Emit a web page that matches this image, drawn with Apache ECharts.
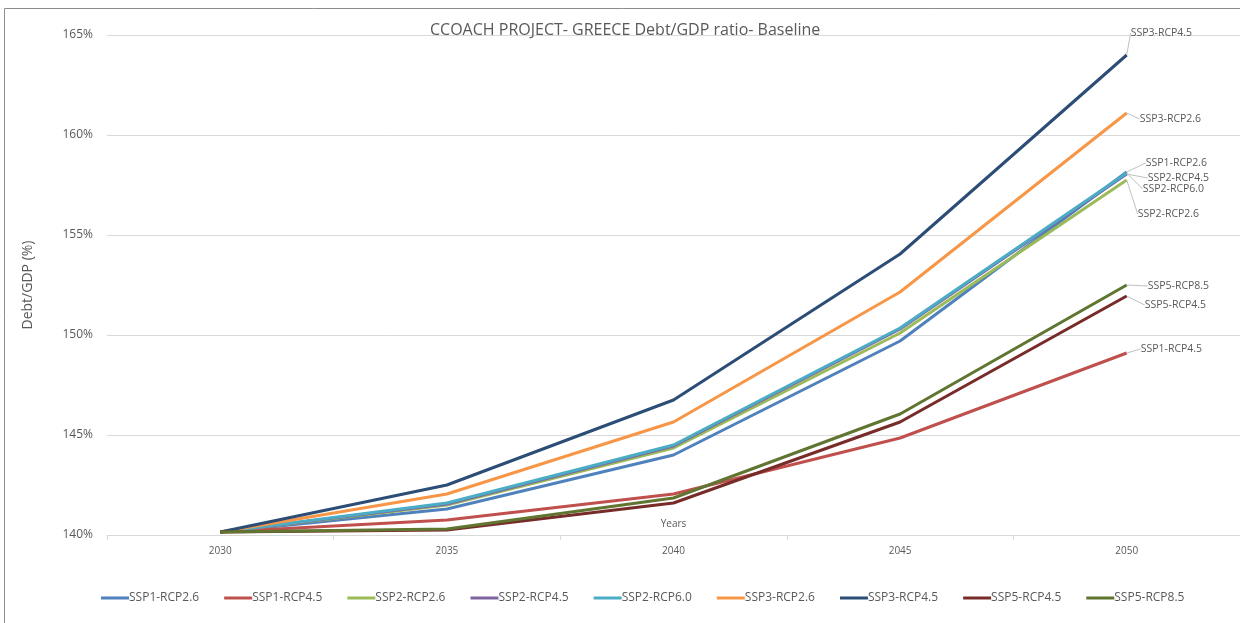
<!DOCTYPE html>
<html lang="en">
<head>
    <meta charset="utf-8"/>
    <title>CCOACH PROJECT- GREECE Debt/GDP ratio- Baseline</title>
    <script src="https://cdn.jsdelivr.net/npm/echarts@6/dist/echarts.min.js"></script>
    <style>
        html, body { margin: 0; padding: 0; background: #fff; }
        #main { width: 1240px; height: 623px; }
    </style>
</head>
<body>
<div id="main"></div>
<script>
    // 数据
    var years = ['2030', '2035', '2040', '2045', '2050'];
    var names = ['SSP1-RCP2.6', 'SSP1-RCP4.5', 'SSP2-RCP2.6', 'SSP2-RCP4.5', 'SSP2-RCP6.0',
        'SSP3-RCP2.6', 'SSP3-RCP4.5', 'SSP5-RCP4.5', 'SSP5-RCP8.5'];
    var ssp1_26 = [140.15, 141.3, 144.0, 149.7, 158.15];
    var ssp1_45 = [140.15, 140.75, 142.05, 144.85, 149.1];
    var ssp2_26 = [140.15, 141.5, 144.35, 150.1, 157.75];
    var ssp2_45 = [140.15, 141.55, 144.45, 150.3, 158.05];
    var ssp2_60 = [140.15, 141.6, 144.5, 150.35, 158.1];
    var ssp3_26 = [140.15, 142.05, 145.65, 152.15, 161.1];
    var ssp3_45 = [140.15, 142.5, 146.75, 154.05, 164.0];
    var ssp5_45 = [140.15, 140.25, 141.6, 145.65, 151.95];
    var ssp5_85 = [140.15, 140.3, 141.85, 146.05, 152.5];
    var values = [ssp1_26, ssp1_45, ssp2_26, ssp2_45, ssp2_60, ssp3_26, ssp3_45, ssp5_45, ssp5_85];

    var colors = ['#4F81BD', '#C0504D', '#9BBB59', '#8064A2', '#4BACC6', '#F79646', '#2C4D75', '#772C2A', '#5F7530'];
    // 末端标签偏移 (dx, dy)
    var labelOffsets = [[17, -9], [12, -4], [9, 34], [19, 4], [14, 16], [11, 6], [2, -22], [16, 9], [19, 1]];

    var txt = '#595959';
    var series = [];
    for (var i = 0; i < names.length; i++) {
        var d = values[i].map(function (v, j, arr) {
            if (j === arr.length - 1) {
                return {value: v, label: {show: true}};
            }
            return v;
        });
        series.push({
            name: names[i],
            type: 'line',
            data: d,
            symbol: 'circle',
            symbolSize: 0,
            showSymbol: true,
            lineStyle: {width: 3, color: colors[i]},
            itemStyle: {color: colors[i]},
            label: {
                show: false,
                position: 'right',
                distance: 2,
                formatter: '{a}',
                color: txt,
                fontSize: 10.5,
                fontFamily: 'Open Sans'
            },
            labelLine: {show: true, lineStyle: {color: '#BFBFBF', width: 1}},
            labelLayout: (function (off) {
                return function () {
                    return {dx: off[0], dy: off[1]};
                };
            })(labelOffsets[i]),
            emphasis: {disabled: true},
            z: 2 + i
        });
    }

    var myChart = echarts.init(document.getElementById('main'));
    var option = {
        animation: false,
        color: colors,
        textStyle: {fontFamily: 'Open Sans'},
        title: {
            text: 'CCOACH PROJECT- GREECE Debt/GDP ratio- Baseline',
            left: 425,
            top: 17,
            textStyle: {color: txt, fontSize: 16, fontWeight: 'normal', fontFamily: 'Open Sans'}
        },
        graphic: [{
            type: 'rect',
            shape: {x: 4.5, y: 8.5, width: 1260, height: 640},
            style: {fill: 'none', stroke: '#8c8c8c', lineWidth: 1},
            silent: true
        }],
        legend: {
            data: names,
            left: 96,
            top: 587,
            icon: 'rect',
            itemWidth: 28,
            itemHeight: 3,
            itemGap: 25,
            textStyle: {color: txt, fontSize: 12, padding: [0, 0, 0, -5]}
        },
        grid: {left: 107, right: -5, top: 35, bottom: 88, containLabel: false},
        xAxis: {
            type: 'category',
            data: years,
            boundaryGap: true,
            name: 'Years',
            nameLocation: 'middle',
            nameGap: -16,
            nameTextStyle: {color: txt, fontSize: 10},
            axisLine: {lineStyle: {color: '#D9D9D9', width: 1}},
            axisTick: {show: true, length: 5, lineStyle: {color: '#D9D9D9'}},
            axisLabel: {color: txt, fontSize: 10, margin: 11}
        },
        yAxis: {
            type: 'value',
            min: 140,
            max: 165,
            interval: 5,
            name: 'Debt/GDP (%)',
            nameLocation: 'middle',
            nameGap: 72,
            nameTextStyle: {color: txt, fontSize: 14},
            axisLine: {show: false},
            axisTick: {show: false},
            axisLabel: {color: txt, fontSize: 12, margin: 14, formatter: '{value}%'},
            splitLine: {lineStyle: {color: '#D9D9D9', width: 1}}
        },
        series: series
    };
    myChart.setOption(option);
</script>
</body>
</html>
